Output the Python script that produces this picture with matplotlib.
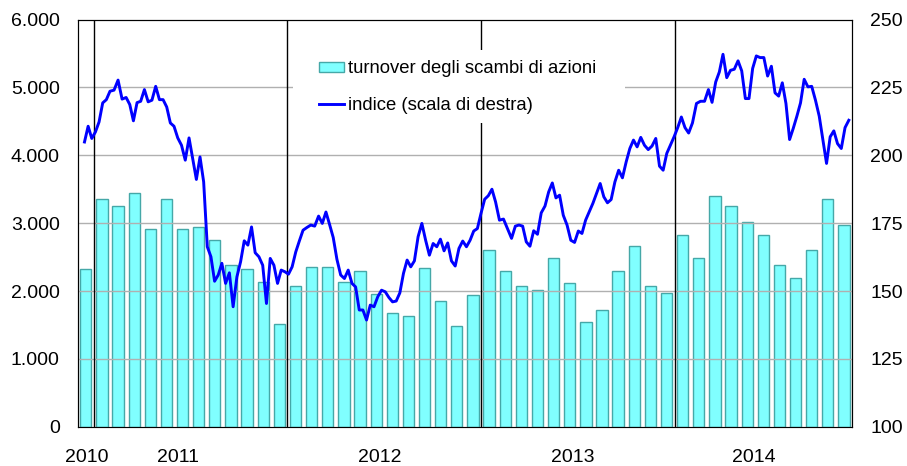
import numpy as np
import pandas as pd
import matplotlib.pyplot as plt
from matplotlib.patches import Patch, Rectangle
from matplotlib.lines import Line2D

plt.rcParams['font.family'] = ['Liberation Sans', 'DejaVu Sans']

# turnover mensile (milioni di euro), dic 2010 - nov 2014
turnover = [2320,
            3360, 3260, 3440, 2910, 3350, 2910, 2940, 2750, 2390, 2330, 2130, 1520,
            2080, 2350, 2360, 2140, 2290, 1960, 1670, 1630, 2340, 1860, 1490, 1935,
            2610, 2300, 2070, 2020, 2480, 2120, 1540, 1720, 2290, 2670, 2070, 1965,
            2830, 2480, 3400, 3260, 3010, 2830, 2380, 2190, 2610, 3350, 2970]

# indice settimanale (scala di destra)
indice = [204.9, 210.7, 206.2, 208.6, 212.3, 219.3, 220.5, 223.6, 224.0, 227.7,
          220.7, 221.3, 218.7, 212.7, 219.4, 219.9, 224.2, 219.7, 220.3, 225.4,
          220.5, 220.5, 217.8, 211.9, 210.7, 206.4, 203.7, 198.2, 206.4, 198.8,
          191.1, 199.4, 190.2, 166.3, 162.6, 153.6, 155.9, 160.2, 152.8, 156.7,
          144.2, 155.2, 160.8, 168.5, 166.9, 173.6, 164.1, 162.6, 159.5, 145.4,
          162.0, 159.5, 152.8, 157.7, 157.1, 156.2, 158.9, 164.4, 168.5, 172.4,
          173.4, 174.3, 173.9, 177.6, 174.9, 179.1, 174.5, 169.7, 161.7, 155.9,
          154.6, 157.7, 152.8, 151.5, 143.0, 143.0, 139.3, 144.8, 144.2, 147.9,
          150.3, 149.7, 147.6, 146.0, 146.3, 149.3, 156.5, 161.4, 158.9, 161.1,
          170.0, 174.9, 168.7, 163.2, 167.5, 166.3, 169.1, 164.8, 167.7, 161.1,
          159.2, 165.7, 168.4, 166.3, 168.7, 172.1, 173.0, 178.6, 183.8, 185.1,
          187.5, 182.8, 176.1, 176.5, 173.0, 169.4, 173.9, 174.3, 173.9, 168.1,
          166.5, 172.2, 170.9, 178.8, 181.3, 186.5, 189.8, 184.3, 185.3, 177.9,
          174.3, 168.7, 167.9, 172.1, 171.2, 176.1, 179.2, 182.3, 185.9, 189.6,
          184.7, 182.5, 183.7, 190.2, 194.5, 191.7, 197.6, 202.5, 205.6, 203.1,
          206.6, 203.7, 202.1, 203.4, 206.2, 196.0, 194.5, 200.7, 203.7, 206.8,
          210.2, 214.1, 210.2, 208.2, 211.9, 219.1, 219.9, 219.9, 224.2, 219.5,
          227.0, 230.7, 237.2, 228.6, 231.3, 231.7, 234.8, 231.1, 220.9, 220.9,
          232.0, 236.6, 236.0, 236.0, 229.2, 232.8, 223.0, 221.8, 226.7, 219.1,
          205.8, 209.9, 214.4, 219.3, 228.0, 225.2, 225.4, 220.3, 214.4, 205.6,
          197.0, 206.8, 209.0, 204.3, 202.5, 210.2, 212.9]

anni = ['2010', '2011', '2012', '2013', '2014']
pos_anni = [0.58, 6.2, 18.7, 30.7, 41.9]
inizio_anno = [1, 13, 25, 37]

# posizione in mesi (0 = inizio dicembre 2010)
mesi = np.arange(len(turnover)) + 0.5
date = pd.date_range('2010-12-14', periods=len(indice), freq='7D')
x_ind = (date.year - 2010) * 12 + date.month - 12 + (date.day - 1) / date.days_in_month

fig = plt.figure(figsize=(9.07, 4.66), dpi=100)
ax = fig.add_axes([0.0857, 0.0843, 0.8537, 0.8737])

ax.bar(mesi, turnover, width=0.7, color='#80ffff', edgecolor='#45a8a8', linewidth=1, zorder=2)
for v in [1000, 2000, 3000, 4000, 5000]:
    ax.axhline(v, color='#b0b0b0', linewidth=1, zorder=3)
for v in inizio_anno:
    ax.axvline(v, color='black', linewidth=1, zorder=4)

ax.set_xlim(0, 48)
ax.set_ylim(0, 6000)
ax.set_yticks([0, 1000, 2000, 3000, 4000, 5000, 6000])
ax.set_yticklabels(['0', '1.000', '2.000', '3.000', '4.000', '5.000', '6.000'])
ax.set_xticks(pos_anni)
ax.set_xticklabels(anni)
ax.tick_params(axis='y', length=0, pad=13, labelsize=14)
ax.tick_params(axis='x', length=0, pad=16, labelsize=14)
for s in ['top', 'left', 'right']:
    ax.spines[s].set_color('black')
ax.spines['bottom'].set_color('#808080')

ax2 = ax.twinx()
ax2.plot(x_ind, indice, color='#0000ff', linewidth=2.1, zorder=5)
ax2.set_ylim(100, 250)
ax2.set_yticks([100, 125, 150, 175, 200, 225, 250])
ax2.tick_params(axis='y', length=0, pad=13, labelsize=14)
ax2.set_xlim(0, 48)

# sfondo bianco della legenda
ax2.add_patch(Rectangle((0.278, 0.746), 0.429, 0.179, transform=ax2.transAxes,
                        facecolor='white', edgecolor='none', zorder=8))

handles = [Patch(facecolor='#80ffff', edgecolor='#45a8a8', linewidth=1),
           Line2D([0], [0], color='#0000ff', linewidth=2.1)]
leg = ax2.legend(handles, ['turnover degli scambi di azioni', 'indice (scala di destra)'],
                 loc='upper left', bbox_to_anchor=(0.299, 0.925), frameon=False,
                 fontsize=13.3, handlelength=1.35, handleheight=0.45, handletextpad=0.2,
                 labelspacing=1.05, borderpad=0.55, borderaxespad=0)
leg.set_zorder(10)

plt.savefig('out.png', dpi=100)
